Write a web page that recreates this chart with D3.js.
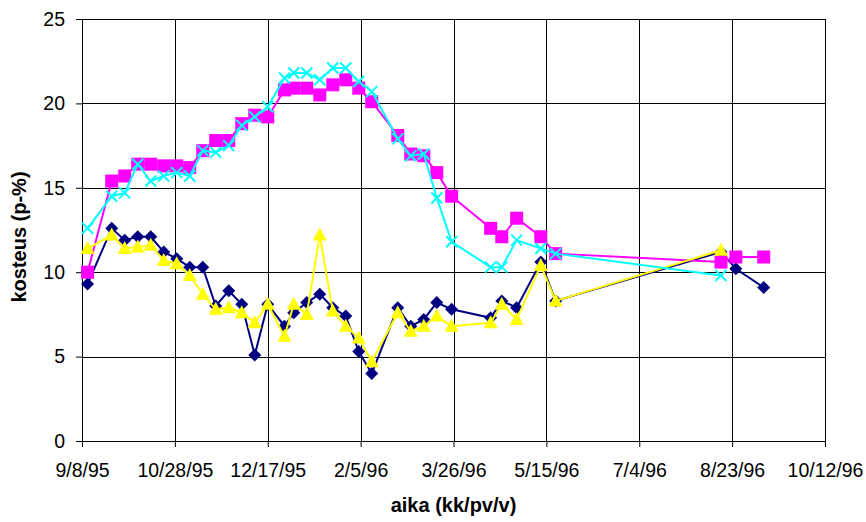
<!DOCTYPE html>
<html>
<head>
<meta charset="utf-8">
<script src="https://cdn.jsdelivr.net/npm/d3@7"></script>
<style>
  body { margin: 0; background: #fff; }
  svg { display: block; font-family: "Liberation Sans", Arial, sans-serif; }
  .tick text { font-size: 19.5px; fill: #000; }
  .axis-title { font-size: 20px; font-weight: bold; }
</style>
</head>
<body>
<svg id="chart" width="866" height="522"></svg>
<script>
// sampling dates
const dates = [
  "1995-09-11", "1995-09-24", "1995-10-01", "1995-10-08", "1995-10-15", "1995-10-22",
  "1995-10-29", "1995-11-05", "1995-11-12", "1995-11-19", "1995-11-26", "1995-12-03",
  "1995-12-10", "1995-12-17", "1995-12-26", "1995-12-31", "1996-01-07", "1996-01-14",
  "1996-01-21", "1996-01-28", "1996-02-04", "1996-02-11", "1996-02-25", "1996-03-03",
  "1996-03-10", "1996-03-17", "1996-03-25", "1996-04-15", "1996-04-21", "1996-04-29",
  "1996-05-12", "1996-05-20", "1996-08-17", "1996-08-25", "1996-09-09"
];

// moisture values, one array per series (null = no sample)
const navyValues = [
  9.3, 12.6, 11.9, 12.1, 12.1, 11.2, 10.8, 10.3, 10.3, 8.0, 8.9, 8.1,
  5.1, 8.1, 6.8, 7.6, 8.2, 8.7, 7.9, 7.4, 5.3, 4.0, 7.9, 6.8,
  7.2, 8.2, 7.8, 7.3, 8.3, 7.9, 10.6, 8.3, 11.2, 10.2, 9.1
];
const magentaValues = [
  10.0, 15.4, 15.7, 16.4, 16.4, 16.3, 16.3, 16.2, 17.2, 17.8, 17.8, 18.8,
  19.3, 19.2, 20.8, 20.9, 20.9, 20.5, 21.1, 21.4, 20.9, 20.1, 18.1, 17.0,
  16.9, 15.9, 14.5, 12.6, 12.1, 13.2, 12.1, 11.1, 10.6, 10.9, 10.9
];
const yellowValues = [
  11.4, 12.2, 11.4, 11.5, 11.6, 10.7, 10.5, 9.8, 8.7, 7.8, 7.9, 7.6,
  7.0, 8.1, 6.2, 8.1, 7.5, 12.2, 7.7, 6.8, 6.1, 4.7, 7.6, 6.5,
  6.8, 7.4, 6.8, 7.0, 8.1, 7.2, 10.4, 8.3, 11.3, null, null
];
const cyanValues = [
  12.6, 14.5, 14.7, 16.4, 15.4, 15.7, 15.9, 15.7, 17.2, 17.1, 17.5, 18.7,
  19.2, 19.8, 21.5, 21.8, 21.8, 21.4, 22.1, 22.1, 21.3, 20.7, 17.9, 16.9,
  17.0, 14.4, 11.8, 10.3, 10.3, 11.9, 11.4, 11.1, 9.8, null, null
];

const xTickLabels = ["9/8/95", "10/28/95", "12/17/95", "2/5/96", "3/26/96",
  "5/15/96", "7/4/96", "8/23/96", "10/12/96"];
const yTicks = [0, 5, 10, 15, 20, 25];

const parseDate = d3.utcParse("%Y-%m-%d");
const parseTick = d3.utcParse("%m/%d/%y");

const svg = d3.select("#chart");
const margin = {left: 82, right: 41, top: 19, bottom: 81};
const width = 866 - margin.left - margin.right;
const height = 522 - margin.top - margin.bottom;

const tickDates = xTickLabels.map(parseTick);

const x = d3.scaleUtc()
    .domain([tickDates[0], tickDates[tickDates.length - 1]])
    .range([0, width]);
const y = d3.scaleLinear().domain([0, 25]).range([height, 0]);

const g = svg.append("g").attr("transform", `translate(${margin.left},${margin.top})`);

// gridlines
g.append("g")
    .selectAll("line.hgrid")
    .data(yTicks)
    .join("line")
    .attr("x1", 0).attr("x2", width)
    .attr("y1", d => Math.round(y(d)) + 0.5).attr("y2", d => Math.round(y(d)) + 0.5)
    .attr("stroke", "#000");
g.append("g")
    .selectAll("line.vgrid")
    .data(tickDates)
    .join("line")
    .attr("x1", d => Math.round(x(d)) + 0.5).attr("x2", d => Math.round(x(d)) + 0.5)
    .attr("y1", 0).attr("y2", height)
    .attr("stroke", "#000");

// axes
const xAxis = d3.axisBottom(x)
    .tickValues(tickDates)
    .tickFormat((d, i) => xTickLabels[i])
    .tickSize(6)
    .tickSizeOuter(0);
const yAxis = d3.axisLeft(y).tickValues(yTicks).tickSize(6).tickSizeOuter(0);

g.append("g")
    .attr("transform", `translate(0,${height})`)
    .call(xAxis)
    .call(a => a.select(".domain").remove())
    .call(a => a.selectAll(".tick text").attr("y", 36).attr("dy", 0));
g.append("g")
    .call(yAxis)
    .call(a => a.select(".domain").remove())
    .call(a => a.selectAll(".tick text").attr("x", -17));
g.selectAll(".tick line").attr("stroke", "#000");

// marker shapes
const shapes = {
    diamond: "M0,-6.5L6.5,0L0,6.5L-6.5,0Z",
    square: "M-6.5,-6.5H6.5V6.5H-6.5Z",
    triangle: "M0,-7.5L7,5.5L-7,5.5Z",
    cross: "M-5.5,-5.5L5.5,5.5M5.5,-5.5L-5.5,5.5"
};

const series = [
    {values: navyValues, color: "#000080", shape: "diamond"},
    {values: magentaValues, color: "#FF00FF", shape: "square"},
    {values: yellowValues, color: "#FFFF00", shape: "triangle"},
    {values: cyanValues, color: "#00FFFF", shape: "cross"}
];

const line = d3.line()
    .x(d => x(d.date))
    .y(d => y(d.value));

series.forEach(s => {
    const pts = dates.map((d, i) => ({date: parseDate(d), value: s.values[i]}))
        .filter(p => p.value !== null);

    const sg = g.append("g");
    sg.append("path")
        .datum(pts)
        .attr("d", line)
        .attr("fill", "none")
        .attr("stroke", s.color)
        .attr("stroke-width", 2);

    sg.selectAll("path.marker")
        .data(pts)
        .join("path")
        .attr("class", "marker")
        .attr("transform", p => `translate(${x(p.date)},${y(p.value)})`)
        .attr("d", shapes[s.shape])
        .attr("fill", s.shape === "cross" ? "none" : s.color)
        .attr("stroke", s.color)
        .attr("stroke-width", s.shape === "cross" ? 2 : 0);
});

// axis titles
svg.append("text")
    .attr("class", "axis-title")
    .attr("x", margin.left + width / 2)
    .attr("y", 512)
    .attr("text-anchor", "middle")
    .text("aika (kk/pv/v)");
svg.append("text")
    .attr("class", "axis-title")
    .attr("transform", "translate(26,237) rotate(-90)")
    .attr("text-anchor", "middle")
    .text("kosteus (p-%)");
</script>
</body>
</html>
